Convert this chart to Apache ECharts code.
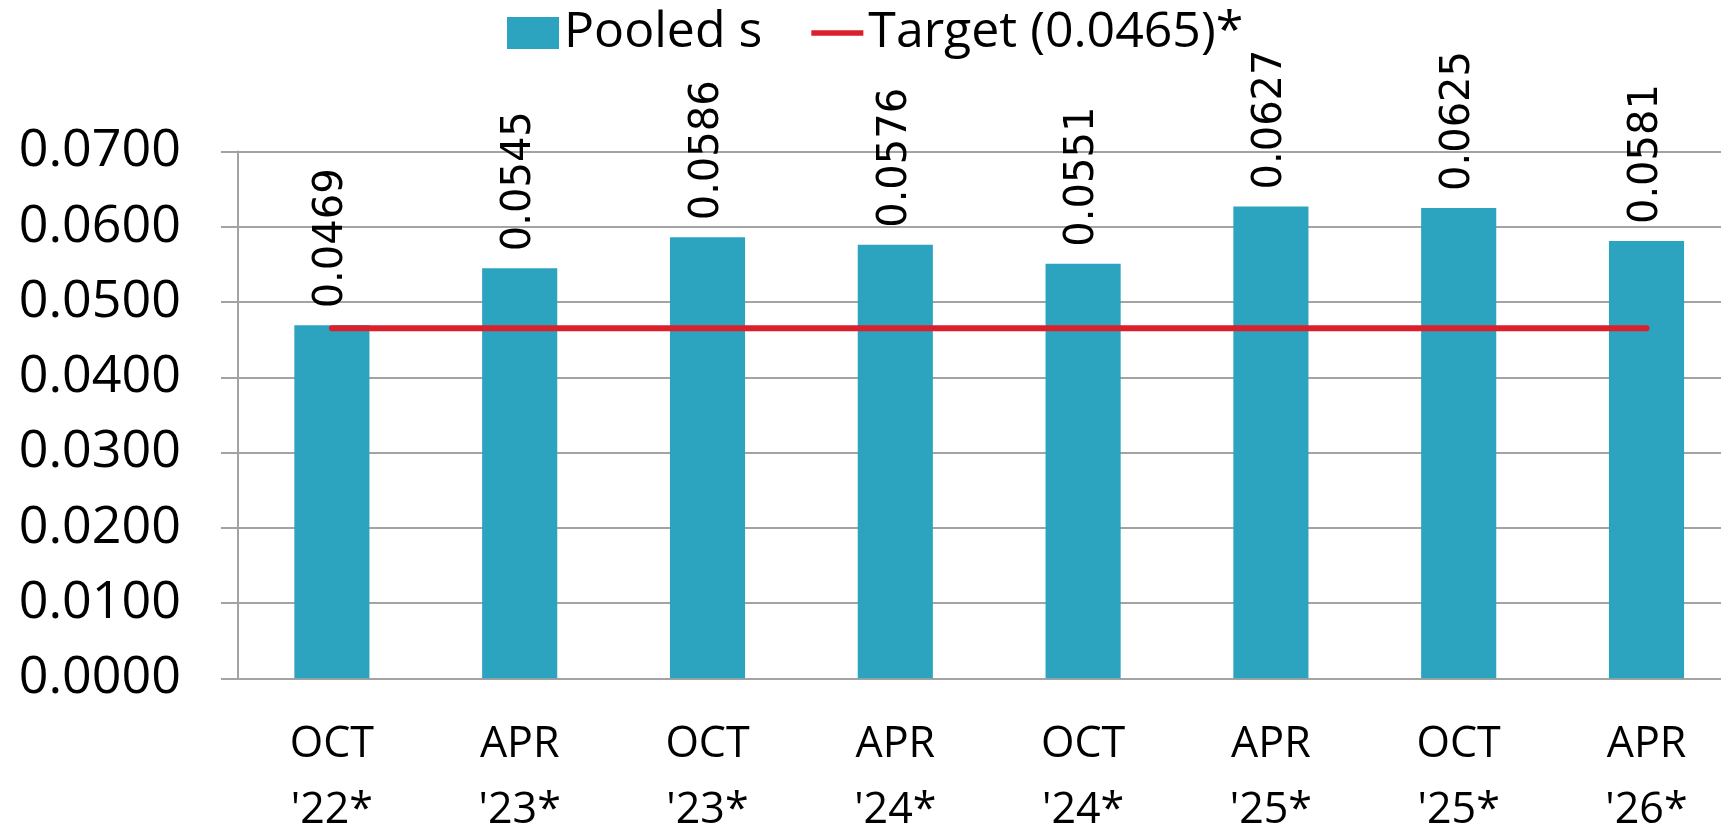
<!DOCTYPE html>
<html>
<head>
<meta charset="utf-8">
<script src="https://cdn.jsdelivr.net/npm/echarts@6/dist/echarts.min.js"></script>
<style>
  html, body { margin: 0; padding: 0; background: #fff; }
  #chart { width: 1721px; height: 824px; }
</style>
</head>
<body>
<div id="chart"></div>
<script>
// data
const categories = ['OCT\n\'22*', 'APR\n\'23*', 'OCT\n\'23*', 'APR\n\'24*', 'OCT\n\'24*', 'APR\n\'25*', 'OCT\n\'25*', 'APR\n\'26*']
const pooledS = [0.0469, 0.0545, 0.0586, 0.0576, 0.0551, 0.0627, 0.0625, 0.0581]
const target = [0.0465, 0.0465, 0.0465, 0.0465, 0.0465, 0.0465, 0.0465, 0.0465]
const yTicks = [0, 0.01, 0.02, 0.03, 0.04, 0.05, 0.06, 0.07]

const axisGray = '#a3a3a3'
const red = '#d9202b'

const myChart = echarts.init(document.getElementById('chart'))

const option = {
  animation: false,
  legend: {
    left: 507,
    top: 8,
    padding: 0,
    itemWidth: 52,
    itemHeight: 32,
    itemGap: 49,
    textStyle: {
      fontFamily: 'Open Sans',
      fontSize: 50,
      color: '#000',
      padding: [0, 0, 26, 0]
    },
    data: [
      { name: 'Pooled s', icon: 'rect' },
      // plain thick line as legend icon, no marker
      { name: 'Target (0.0465)*', icon: 'path://M0,0 L57,0 L57,6 L0,6 Z', itemStyle: { color: red } }
    ]
  },
  grid: {
    left: 238,
    top: 151.5,
    width: 1502.4,
    bottom: 145.7,
    outerBoundsMode: 'none'
  },
  xAxis: {
    type: 'category',
    data: categories,
    axisLine: { lineStyle: { color: axisGray, width: 2 } },
    axisTick: { length: 15, lineStyle: { color: axisGray, width: 2 } },
    axisLabel: {
      fontFamily: 'Open Sans',
      fontSize: 43,
      lineHeight: 66,
      color: '#000',
      margin: 33
    }
  },
  yAxis: {
    type: 'value',
    min: yTicks[0],
    max: yTicks[yTicks.length - 1],
    interval: 0.01,
    axisLine: { show: true, lineStyle: { color: axisGray, width: 2 } },
    axisTick: { show: true, length: 17, lineStyle: { color: axisGray, width: 2 } },
    splitLine: { lineStyle: { color: axisGray, width: 2 } },
    axisLabel: {
      fontFamily: 'Open Sans',
      fontSize: 52,
      color: '#000',
      margin: 57,
      padding: [0, 0, 14, 0],
      formatter: v => v.toFixed(4)
    }
  },
  series: [
    {
      name: 'Pooled s',
      type: 'bar',
      data: pooledS,
      barWidth: '40%',
      itemStyle: { color: '#2ca3bf' },
      label: {
        show: true,
        position: 'top',
        rotate: 90,
        align: 'left',
        verticalAlign: 'middle',
        distance: 17,
        fontFamily: 'DejaVu Sans',
        fontSize: 40,
        color: '#000',
        formatter: p => p.value.toFixed(4)
      }
    },
    {
      name: 'Target (0.0465)*',
      type: 'line',
      data: target,
      symbol: 'none',
      z: 5,
      lineStyle: { color: red, width: 6, cap: 'round' },
      itemStyle: { color: red }
    }
  ]
}

option && myChart.setOption(option)
</script>
</body>
</html>
